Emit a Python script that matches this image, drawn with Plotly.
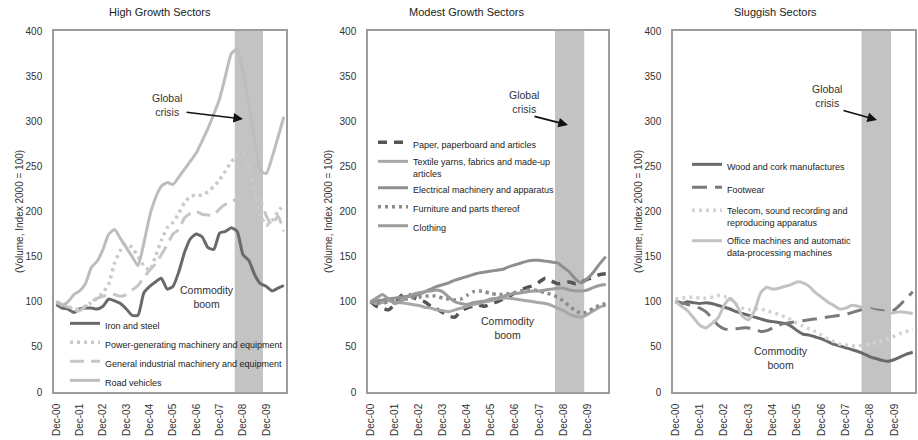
import pandas as pd
import plotly.graph_objects as go

W, H = 918, 440

# ---------------- data (quarterly readings, Dec-2000 .. Sep-2010) ----------------
dates = pd.date_range("2000-12-01", periods=40, freq="3MS")

# High growth sectors
iron_steel = [97, 93, 92, 88, 92, 93, 93, 92, 95, 103, 101, 98, 92, 85, 85, 110, 117, 122, 126, 114,
              117, 133, 155, 170, 175, 172, 160, 158, 176, 178, 182, 178, 152, 146, 130, 120, 117, 112, 115, 118]
power_gen = [100, 97, 95, 92, 92, 95, 99, 104, 110, 120, 143, 157, 164, 160, 150, 140, 135, 150, 168, 182,
             188, 198, 210, 217, 218, 218, 222, 228, 235, 245, 255, 262, 265, 250, 222, 195, 185, 190, 200, 208]
general_ind = [100, 97, 94, 91, 90, 95, 100, 104, 106, 108, 108, 106, 108, 113, 118, 127, 135, 142, 152, 163,
               175, 180, 193, 198, 200, 197, 196, 196, 203, 208, 211, 214, 218, 218, 217, 213, 195, 185, 195, 178]
road_vehicles = [100, 96, 100, 108, 112, 120, 138, 145, 158, 175, 180, 170, 160, 150, 140, 165, 195, 215, 228, 232,
                 230, 238, 247, 256, 265, 278, 292, 308, 325, 350, 375, 380, 355, 318, 278, 245, 242, 260, 282, 305]

# Modest growth sectors
paper = [100, 95, 93, 91, 97, 106, 110, 105, 102, 100, 95, 92, 88, 84, 83, 90, 93, 95, 96, 95,
         98, 100, 103, 106, 110, 113, 116, 118, 122, 126, 123, 120, 121, 122, 120, 122, 125, 127, 130, 131]
textile = [100, 98, 99, 101, 100, 99, 98, 97, 96, 94, 93, 91, 90, 89, 91, 93, 95, 97, 98, 100,
           101, 103, 104, 104, 103, 102, 101, 100, 99, 98, 96, 93, 90, 86, 84, 83, 86, 90, 94, 96]
electrical = [100, 101, 102, 103, 104, 105, 106, 106, 108, 111, 114, 117, 119, 121, 124, 126, 128, 130, 132, 133,
              134, 135, 136, 139, 141, 143, 145, 146, 146, 145, 144, 143, 138, 133, 125, 121, 126, 133, 142, 150]
furniture = [100, 99, 98, 100, 101, 102, 103, 104, 105, 106, 107, 106, 104, 103, 102, 103, 107, 111, 112, 111,
             109, 108, 108, 109, 110, 112, 113, 113, 112, 110, 108, 105, 101, 95, 90, 87, 89, 93, 96, 98]
clothing = [100, 104, 108, 103, 98, 100, 105, 108, 110, 111, 112, 113, 111, 105, 100, 98, 97, 99, 100, 101,
            103, 104, 106, 108, 109, 110, 111, 112, 112, 113, 114, 115, 115, 113, 112, 112, 113, 116, 118, 119]

# Sluggish sectors
wood = [100, 98, 100, 99, 98, 99, 98, 96, 94, 92, 89, 87, 85, 83, 81, 79, 78, 77, 76, 73,
        68, 64, 63, 61, 59, 56, 53, 51, 49, 47, 45, 42, 39, 37, 35, 34, 36, 39, 42, 44]
footwear = [100, 99, 97, 95, 93, 89, 82, 74, 70, 69, 70, 71, 71, 70, 67, 68, 71, 74, 76, 77,
            78, 79, 80, 81, 82, 83, 84, 85, 86, 88, 90, 92, 92, 91, 90, 89, 91, 97, 104, 111]
telecom = [103, 104, 105, 105, 104, 104, 105, 107, 106, 103, 97, 93, 91, 92, 92, 90, 88, 86, 83, 80,
           76, 73, 70, 67, 63, 59, 56, 53, 52, 51, 51, 52, 53, 55, 57, 59, 62, 65, 67, 69]
office = [100, 95, 90, 82, 74, 71, 76, 82, 96, 104, 97, 84, 80, 90, 110, 116, 114, 115, 117, 119,
          122, 121, 117, 110, 105, 100, 96, 92, 93, 96, 95, 93, 91, 89, 88, 87, 88, 89, 88, 87]

tick_dates = ["2000-12-01", "2001-12-01", "2002-12-01", "2003-12-01", "2004-12-01",
              "2005-12-01", "2006-12-01", "2007-12-01", "2008-12-01", "2009-12-01"]
tick_labels = ["Dec-00", "Dec-01", "Dec-02", "Dec-03", "Dec-04",
               "Dec-05", "Dec-06", "Dec-07", "Dec-08", "Dec-09"]
y_ticks = [0, 50, 100, 150, 200, 250, 300, 350, 400]
crisis_start, crisis_end = "2008-07-25", "2009-10-10"
x_range = ["2000-10-25", "2010-10-05"]

panel_titles = ["High Growth Sectors", "Modest Growth Sectors", "Sluggish Sectors"]

# ---------------- figure ----------------
FONT = "Liberation Sans, Arial, sans-serif"
fig = go.Figure()

def px_x(p):
    return p / W

def px_y(p):
    return 1 - p / H

series = [
    ("Iron and steel", iron_steel, 1, "#6a6a6a", "solid", 3),
    ("Power-generating machinery and equipment", power_gen, 1, "#c9c9c9", "3px,4px", 3.5),
    ("General industrial machinery and equipment", general_ind, 1, "#c6c6c6", "14px,7px", 3),
    ("Road vehicles", road_vehicles, 1, "#bdbdbd", "solid", 3),
    ("Paper, paperboard and articles", paper, 2, "#555555", "9px,7px", 3.5),
    ("Textile yarns, fabrics and made-up<br>articles", textile, 2, "#a8a8a8", "solid", 3),
    ("Electrical machinery and apparatus", electrical, 2, "#8f8f8f", "solid", 3),
    ("Furniture and parts thereof", furniture, 2, "#8c8c8c", "3px,4px", 3.5),
    ("Clothing", clothing, 2, "#9c9c9c", "solid", 3),
    ("Wood and cork manufactures", wood, 3, "#696969", "solid", 3),
    ("Footwear", footwear, 3, "#7a7a7a", "15px,8px", 3),
    ("Telecom, sound recording and<br>reproducing apparatus", telecom, 3, "#d2d2d2", "3px,4px", 3.5),
    ("Office machines and automatic<br>data-processing machines", office, 3, "#c2c2c2", "solid", 3),
]

for i, (name, vals, p, col, dash, w) in enumerate(series):
    sfx = "" if p == 1 else str(p)
    fig.add_trace(go.Scatter(
        x=dates, y=vals, name=name, mode="lines",
        line=dict(color=col, width=w, dash=dash, shape="spline", smoothing=0.5),
        xaxis="x" + sfx, yaxis="y" + sfx, legend="legend" + sfx,
        legendgroup="g%d" % i, hoverinfo="skip",
    ))

areas = [(54, 286), (368, 608), (673, 915)]
y_top, y_bot = 31, 392

axis_common = dict(showgrid=False, zeroline=False, showline=True, mirror=True,
                   linecolor="#9c9c9c", linewidth=1.5,
                   tickfont=dict(family=FONT, size=10, color="#333333"))

layout = dict(
    width=W, height=H, margin=dict(l=0, r=0, t=0, b=0, autoexpand=False),
    paper_bgcolor="white", plot_bgcolor="white",
    font=dict(family=FONT, size=10, color="#222222"),
    showlegend=True,
)
for k, (l, r) in enumerate(areas):
    sfx = "" if k == 0 else str(k + 1)
    layout["xaxis" + sfx] = dict(
        domain=[px_x(l), px_x(r)], anchor="y" + sfx, type="date", range=x_range,
        tickmode="array", tickvals=tick_dates, ticktext=tick_labels, tickangle=-90,
        ticklabelstandoff=6, automargin=False, **axis_common)
    layout["yaxis" + sfx] = dict(
        domain=[px_y(y_bot), px_y(y_top)], anchor="x" + sfx, range=[0, 400],
        tickmode="array", tickvals=y_ticks, ticklabelstandoff=8, automargin=False,
        **axis_common)

leg_common = dict(font=dict(family=FONT, size=9, color="#222222"), bgcolor="rgba(0,0,0,0)",
                  xanchor="left", yanchor="top", valign="top", itemclick=False,
                  itemdoubleclick=False)
layout["legend"] = dict(x=px_x(65), y=px_y(311), tracegroupgap=0, **leg_common)
layout["legend2"] = dict(x=px_x(373), y=px_y(130), tracegroupgap=0, **leg_common)
layout["legend3"] = dict(x=px_x(687), y=px_y(152), tracegroupgap=4, **leg_common)

fig.update_layout(**layout)

for k in range(3):
    sfx = "" if k == 0 else str(k + 1)
    fig.add_shape(type="rect", xref="x" + sfx, yref="y" + sfx + " domain",
                  x0=crisis_start, x1=crisis_end, y0=0, y1=1,
                  fillcolor="#c3c3c3", line=dict(width=0), layer="below")

ann_font = dict(family=FONT, size=10.5, color="#333333")

def text_ann(cx, cy, text, font, angle=0):
    fig.add_annotation(x=px_x(cx), y=px_y(cy), xref="paper", yref="paper", text=text,
                       showarrow=False, font=font, xanchor="center", yanchor="middle",
                       textangle=angle)

for cx, t in zip([160, 466, 775], panel_titles):
    text_ann(cx, 12, t, dict(family=FONT, size=11, color="#222222"))
for cx in [19, 328, 638]:
    text_ann(cx, 212, "(Volume, Index 2000 = 100)", dict(family=FONT, size=10, color="#333333"), -90)

gc = [((167, 105), (185, 112), (243, 119)),
      ((524, 102), (533, 116), (568, 125)),
      ((827, 96), (842, 110), (877, 120))]
for (tx, ty), (ax0, ay0), (hx, hy) in gc:
    text_ann(tx, ty, "Global<br>crisis", ann_font)
    fig.add_annotation(x=px_x(hx), y=px_y(hy), xref="paper", yref="paper", text="",
                       showarrow=True, ax=ax0 - hx, ay=ay0 - hy, arrowhead=2,
                       arrowsize=1.2, arrowwidth=1.6, arrowcolor="#111111")
for cx, cy in [(207, 297), (508, 328), (781, 358)]:
    text_ann(cx, cy, "Commodity<br>boom", ann_font)

fig.write_html("out.html", config={"displayModeBar": False},
               post_script="document.body.style.margin='0';document.body.style.padding='0';")
